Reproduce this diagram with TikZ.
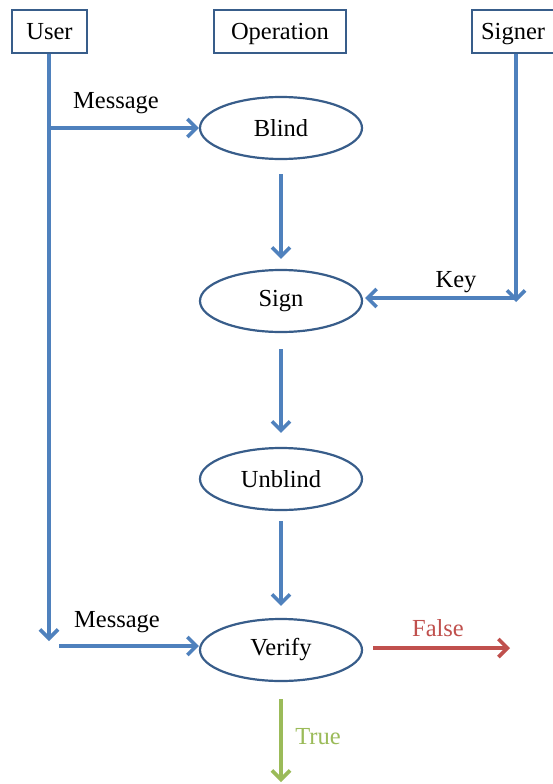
\documentclass[tikz,border=0pt]{standalone}
\usepackage{fontspec}
\setmainfont{Liberation Serif}
\usetikzlibrary{arrows.meta,shapes.geometric}
\definecolor{flowblue}{RGB}{79,129,189}
\definecolor{edgeblue}{RGB}{56,93,138}
\definecolor{falsered}{RGB}{192,80,77}
\definecolor{truegreen}{RGB}{155,187,89}
\tikzset{
  txt/.style={font=\fontsize{24.5}{28}\selectfont},
  actor/.style={draw=edgeblue, line width=2.2pt, minimum width=#1, minimum height=43pt, inner sep=0pt, text depth=0pt, txt},
  actor/.default=75pt,
  opnode/.style={ellipse, draw=edgeblue, line width=2.2pt, minimum width=162pt, minimum height=62pt, inner sep=0pt, txt},
  flow/.style={draw=flowblue, line width=3.6pt, -{Straight Barb[length=9pt,width=18pt,line width=3.6pt]}},
  lbl/.style={txt, inner sep=0pt}
}
\begin{document}
\begin{tikzpicture}[x=1pt,y=-1pt]
\useasboundingbox (0,0) rectangle (553,784);
\fill[white] (0,0) rectangle (553,784);

% participants
\node[actor=75pt] (user) at (49.5,31.5) {User};
\node[actor=132pt] (oper) at (280,31.5) {Operation};
\node[actor=88pt, anchor=west] (signer) at (471,31.5) {\hspace*{-6pt}Signer};

% operations
\node[opnode] (blind) at (281,128) {Blind};
\node[opnode] (sign) at (281,301) {Sign};
\node[opnode] (unblind) at (281,479) {Unblind};
\node[opnode] (verify) at (281,650) {Verify};

% helper points
\coordinate (ubr) at (49,128);
\coordinate (uend) at (49,641);
\coordinate (sbr) at (516,298);
\coordinate (m2) at (59,646);
\coordinate (fend) at (510,648);
\coordinate (tend) at (281,782);

% user lifeline and first message
\draw[flow] (user.south -| ubr) -- (uend);
\draw[flow] (ubr) -- (blind.west |- ubr);
\node[lbl] (msg1) at (116,103) {Message};

% signer lifeline and key
\draw[flow] (signer.south -| sbr) -- ([yshift=-4pt]sbr);
\draw[flow] (sbr) -- ([xshift=2pt]sign.east |- sbr);
\node[lbl] (key) at (456,282) {Key};

% operation chain
\draw[flow] ([yshift=-14pt]blind.south) -- ([yshift=10pt]sign.north);
\draw[flow] ([yshift=-16pt]sign.south) -- ([yshift=14pt]unblind.north);
\draw[flow] ([yshift=-10pt]unblind.south) -- ([yshift=12pt]verify.north);

% second message into verification
\draw[flow] (m2) -- (verify.west |- m2);
\node[lbl] (msg2) at (117,622) {Message};

% results
\draw[flow, draw=falsered] ([xshift=10pt]verify.east |- fend) -- (fend);
\node[lbl, text=falsered] (false) at (438,628) {False};
\draw[flow, draw=truegreen] ([yshift=-17pt]verify.south) -- (tend);
\node[lbl, text=truegreen] (true) at (318,737) {True};
\end{tikzpicture}
\end{document}
